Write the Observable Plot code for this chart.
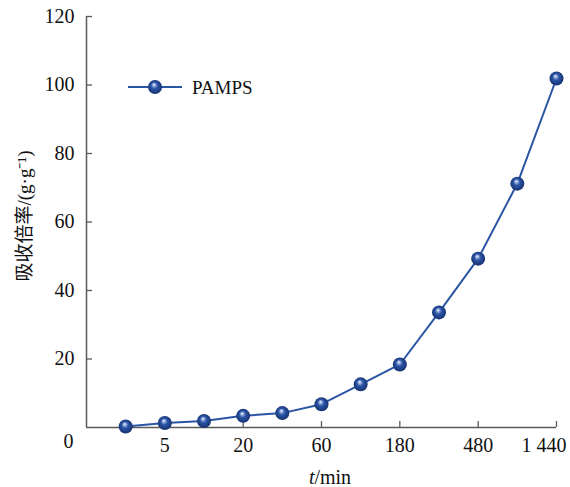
<!DOCTYPE html>
<html><head><meta charset="utf-8">
<script src="https://cdn.jsdelivr.net/npm/d3@7"></script>
<script src="https://cdn.jsdelivr.net/npm/@observablehq/plot@0.6"></script>
<style>
body{margin:0;background:#fff;}
#chart{width:570px;height:487px;}
</style></head><body><div id="chart"></div>
<script>
// time points (min); only every other one is labelled on the axis
const times = ["2","5","10","20","40","60","120","180","300","480","720","1440"];
const absorb = [0.3, 1.3, 1.9, 3.4, 4.2, 6.8, 12.6, 18.4, 33.6, 49.3, 71.2, 101.9];
const xTickTimes = ["5","20","60","180","480","1440"];
const xTickLabels = ["5","20","60","180","480","1 440"];
const yTicks = [20, 40, 60, 80, 100, 120];
const seriesName = "PAMPS";
const yLabel = "吸收倍率/(g·g⁻¹)";

const data = times.map((t, i) => ({i, t, v: absorb[i]}));
const tickIdx = xTickTimes.map(t => times.indexOf(t));
const xMin = -1, xMax = times.length - 1;
const axisColor = "#5a5a5a";
const lineColor = "#2a55a5";
const textColor = "#111";

const W = 570, H = 487, mL = 86, mR = 14, mT = 16, mB = 60;
const frameW = W - mL - mR, frameH = H - mT - mB, tickLen = 6;

const plot = Plot.plot({
  width: W, height: H,
  marginLeft: mL, marginRight: mR, marginTop: mT, marginBottom: mB,
  style: {fontFamily: "'Liberation Serif', 'Noto Sans CJK SC', serif", fontSize: "20px", color: textColor, background: "#fff"},
  x: {type: "linear", domain: [xMin, xMax]},
  y: {domain: [0, 120]},
  marks: [
    Plot.ruleY([0], {stroke: axisColor, strokeWidth: 1.5}),
    Plot.ruleX([xMin], {y1: 0, y2: 120, stroke: axisColor, strokeWidth: 1.5}),
    Plot.tickY(yTicks, {y: d => d, insetRight: frameW - tickLen, stroke: axisColor, strokeWidth: 1.3}),
    Plot.tickX(tickIdx, {x: d => d, insetTop: frameH - tickLen, stroke: axisColor, strokeWidth: 1.3}),
    Plot.line(data, {x: "i", y: "v", stroke: lineColor, strokeWidth: 2}),
    Plot.dot(data, {x: "i", y: "v", r: 7, fill: "url(#ball)", stroke: "none"}),
    Plot.axisY(yTicks, {tickSize: 0, tickPadding: 12, label: null}),
    Plot.axisX(tickIdx, {tickSize: 0, tickPadding: 10, tickFormat: d => xTickLabels[tickIdx.indexOf(d)], label: null}),
    Plot.text(["0"], {x: () => xMin, y: () => 0, text: d => d, dx: -18, dy: 14, fill: textColor})
  ]
});
document.getElementById("chart").appendChild(plot);

const svg = d3.select(plot);
const defs = svg.insert("defs", ":first-child");
const g = defs.append("radialGradient").attr("id", "ball")
  .attr("cx", "50%").attr("cy", "50%").attr("r", "55%").attr("fx", "42%").attr("fy", "32%");
g.append("stop").attr("offset", "0%").attr("stop-color", "#ffffff");
g.append("stop").attr("offset", "16%").attr("stop-color", "#9fb4e0");
g.append("stop").attr("offset", "42%").attr("stop-color", "#2c55a8");
g.append("stop").attr("offset", "100%").attr("stop-color", "#132d68");

// last x tick label ("1 440") ends near the right edge as in the reference
const xTexts = svg.selectAll("[aria-label='x-axis tick label'] text").nodes();
if (xTexts.length) {
  d3.select(xTexts[xTexts.length - 1]).attr("text-anchor", "end").attr("dx", 10);
}

// y label
svg.append("text").attr("transform", "translate(24,216) rotate(-90)")
  .attr("text-anchor", "middle").style("font-size", "19px").attr("fill", textColor)
  .attr("dy", "0.35em").text(yLabel);

// x label with italic t
const xl = svg.append("text").attr("x", 330).attr("y", 484).attr("text-anchor", "middle")
  .style("font-size", "20px").attr("fill", textColor);
xl.append("tspan").style("font-style", "italic").text("t");
xl.append("tspan").text("/min");

// legend
const lg = svg.append("g");
lg.append("line").attr("x1", 128).attr("x2", 182).attr("y1", 87).attr("y2", 87)
  .attr("stroke", lineColor).attr("stroke-width", 2);
lg.append("circle").attr("cx", 155).attr("cy", 87).attr("r", 7).attr("fill", "url(#ball)");
lg.append("text").attr("x", 192).attr("y", 94).attr("text-anchor", "start")
  .style("font-size", "19px").attr("fill", textColor).text(seriesName);
</script>
</body></html>
